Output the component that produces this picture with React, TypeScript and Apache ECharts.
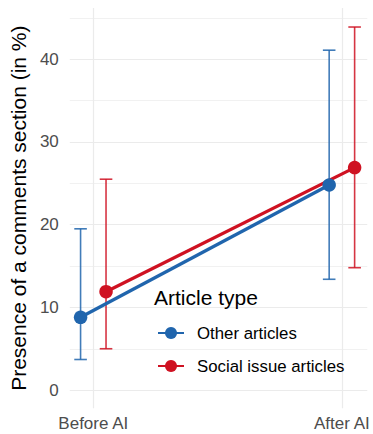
import React, { useEffect, useRef } from "react";
import * as echarts from "echarts";

const categories = ["Before AI", "After AI"];
const seriesNames = ["Other articles", "Social issue articles"];
const otherMean = [8.8, 24.8];
const otherLow = [3.7, 13.4];
const otherHigh = [19.5, 41.1];
const socialMean = [11.9, 26.9];
const socialLow = [5.0, 14.8];
const socialHigh = [25.5, 43.9];
const yMajorTicks = [0, 10, 20, 30, 40];
const yMinorTicks = [5, 15, 25, 35, 45];

const COLORS = ["#2065ad", "#cf1222"];
const DODGE = 0.0512;
const FONT = "'Liberation Sans', Arial, Helvetica, sans-serif";

export default function App() {
  const ref = useRef<HTMLDivElement>(null);
  useEffect(() => {
    if (!ref.current) return;
    const chart = echarts.init(ref.current, null, { renderer: "svg" });
    const groups = [
      { mean: otherMean, low: otherLow, high: otherHigh, off: -DODGE },
      { mean: socialMean, low: socialLow, high: socialHigh, off: DODGE },
    ];
    const series: any[] = [];
    groups.forEach((g, gi) => {
      series.push({
        type: "custom",
        name: seriesNames[gi] + " CI",
        z: 1,
        silent: true,
        data: categories.map((_, i) => [i + g.off, g.low[i], g.high[i]]),
        encode: { x: 0, y: [1, 2] },
        renderItem: (params: any, api: any) => {
          const x = api.value(0);
          const lo = api.coord([x, api.value(1)]);
          const hi = api.coord([x, api.value(2)]);
          const hw = 6.3;
          const style = { stroke: COLORS[gi], lineWidth: 1.6, opacity: 0.85 };
          return {
            type: "group",
            children: [
              { type: "line", shape: { x1: lo[0], y1: lo[1], x2: hi[0], y2: hi[1] }, style },
              { type: "line", shape: { x1: lo[0] - hw, y1: lo[1], x2: lo[0] + hw, y2: lo[1] }, style },
              { type: "line", shape: { x1: hi[0] - hw, y1: hi[1], x2: hi[0] + hw, y2: hi[1] }, style },
            ],
          };
        },
      });
    });
    groups.forEach((g, gi) => {
      series.push({
        type: "line",
        name: seriesNames[gi],
        z: 2,
        symbol: "circle",
        showSymbol: false,
        color: COLORS[gi],
        lineStyle: { color: COLORS[gi], width: 3.3 },
        itemStyle: { color: COLORS[gi] },
        data: categories.map((_, i) => [i + g.off, g.mean[i]]),
      });
    });
    groups.forEach((g, gi) => {
      series.push({
        type: "scatter",
        name: seriesNames[gi] + " point",
        z: 3,
        symbol: "circle",
        symbolSize: 13.5,
        itemStyle: { color: COLORS[gi], opacity: 1 },
        data: categories.map((_, i) => [i + g.off, g.mean[i]]),
      });
    });

    chart.setOption({
      animation: false,
      textStyle: { fontFamily: FONT },
      grid: { left: 67, right: 2, top: 8, bottom: 25.7, containLabel: false },
      title: {
        text: "Article type",
        left: 154,
        top: 287,
        padding: 0,
        textStyle: { fontFamily: FONT, fontSize: 21, fontWeight: "normal", color: "#000" },
      },
      legend: {
        data: seriesNames,
        orient: "vertical",
        left: 157,
        top: 324.5,
        padding: 0,
        itemWidth: 26,
        itemHeight: 15,
        itemGap: 16,
        selectedMode: false,
        textStyle: { fontFamily: FONT, fontSize: 16.8, color: "#000", padding: [0, 0, 0, 8] },
      },
      xAxis: {
        type: "value",
        min: -0.0945,
        max: 1.102,
        axisLine: { show: false },
        axisTick: { show: false, customValues: [0, 1] },
        axisLabel: {
          customValues: [0, 1],
          formatter: (v: number) => categories[Math.round(v)] ?? "",
          color: "#4d4d4d",
          fontSize: 17,
          fontFamily: FONT,
          margin: 7,
        },
        splitLine: { show: true, lineStyle: { color: "#ebebeb", width: 1.2 } },
      },
      yAxis: [
        {
          type: "value",
          min: -2.2,
          max: 46.2,
          name: "Presence of a comments section (in %)",
          nameLocation: "middle",
          nameGap: 35,
          nameTextStyle: { fontFamily: FONT, fontSize: 21, color: "#000" },
          axisLine: { show: false },
          axisTick: { show: false, customValues: yMajorTicks },
          axisLabel: {
            customValues: yMajorTicks,
            color: "#4d4d4d",
            fontSize: 17,
            fontFamily: FONT,
            margin: 11,
          },
          splitLine: { show: true, lineStyle: { color: "#ebebeb", width: 1.2 } },
        },
        {
          type: "value",
          min: -2.2,
          max: 46.2,
          position: "left",
          axisLine: { show: false },
          axisTick: { show: false, customValues: yMinorTicks },
          axisLabel: { show: false, customValues: yMinorTicks },
          splitLine: { show: true, lineStyle: { color: "#efefef", width: 0.9 } },
        },
      ],
      series,
    });
    return () => chart.dispose();
  }, []);
  return (
    <div
      ref={ref}
      style={{ position: "fixed", left: 0, top: 0, width: 373, height: 434, background: "#fff" }}
    />
  );
}
